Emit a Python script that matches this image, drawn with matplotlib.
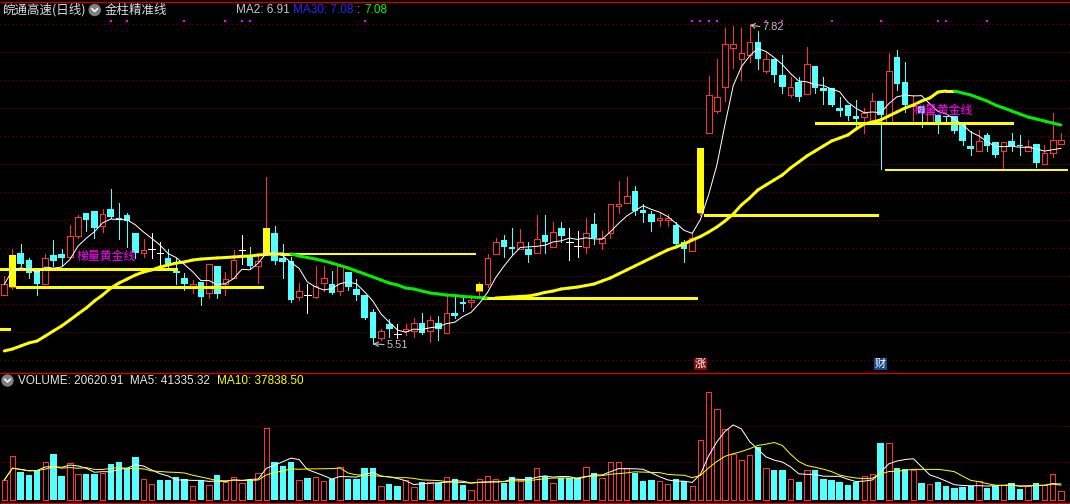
import numpy as np
import pandas as pd
import matplotlib
matplotlib.use('Agg')
import matplotlib.pyplot as plt
from matplotlib.collections import LineCollection
from matplotlib.patches import Circle

plt.rcParams['font.family'] = ['Noto Sans CJK SC', 'DejaVu Sans']

# 日线数据 (open, high, low, close)
opens = [5.86, 5.92, 6.17, 6.12, 6.04, 5.94, 6.15, 6.16, 6.14, 6.29,
         6.46, 6.47, 6.36, 6.49, 6.42, 6.44, 6.31, 6.17, 6.20, 6.17,
         6.13, 6.04, 5.99, 5.92, 5.96, 5.88, 6.07, 5.94, 5.99, 6.19,
         6.15, 6.07, 6.15, 6.31, 6.13, 6.11, 5.85, 5.86, 5.85, 5.95,
         5.94, 5.89, 6.03, 5.91, 5.86, 5.74, 5.55, 5.65, 5.58, 5.60,
         5.60, 5.66, 5.60, 5.66, 5.59, 5.73, 5.81, 5.81, 5.89, 5.94,
         6.16, 6.26, 6.21, 6.20, 6.20, 6.17, 6.30, 6.21, 6.35, 6.25,
         6.22, 6.21, 6.38, 6.24, 6.31, 6.51, 6.53, 6.62, 6.48, 6.45,
         6.41, 6.41, 6.37, 6.25, 6.18, 6.46, 7.04, 7.20, 7.37, 7.65,
         7.57, 7.60, 7.70, 7.49, 7.57, 7.46, 7.31, 7.41, 7.32, 7.52,
         7.36, 7.36, 7.22, 7.24, 7.16, 7.15, 7.12, 7.27, 7.12, 7.59,
         7.41, 7.23, 7.23, 7.12, 7.17, 7.16, 7.16, 7.10, 6.94, 6.91,
         7.02, 6.97, 6.91, 6.98, 6.95, 6.91, 6.96, 6.81, 6.89, 6.96]
highs = [6.00, 6.20, 6.23, 6.13, 6.04, 6.16, 6.26, 6.20, 6.37, 6.44,
         6.46, 6.47, 6.49, 6.63, 6.53, 6.46, 6.31, 6.27, 6.31, 6.25,
         6.20, 6.13, 6.02, 5.97, 5.96, 6.09, 6.07, 6.03, 6.19, 6.30,
         6.21, 6.15, 6.72, 6.36, 6.23, 6.14, 5.95, 5.94, 6.07, 6.07,
         6.04, 6.07, 6.03, 5.98, 5.86, 5.76, 5.62, 5.69, 5.65, 5.65,
         5.70, 5.73, 5.71, 5.71, 5.86, 5.85, 5.84, 5.85, 5.96, 6.16,
         6.28, 6.30, 6.35, 6.34, 6.25, 6.44, 6.44, 6.39, 6.39, 6.35,
         6.33, 6.42, 6.46, 6.33, 6.52, 6.69, 6.72, 6.65, 6.52, 6.47,
         6.46, 6.45, 6.39, 6.26, 6.32, 6.93, 7.45, 7.57, 7.80, 7.81,
         7.80, 7.82, 7.78, 7.62, 7.57, 7.60, 7.44, 7.44, 7.66, 7.52,
         7.44, 7.36, 7.30, 7.24, 7.28, 7.22, 7.33, 7.27, 7.62, 7.64,
         7.55, 7.31, 7.23, 7.22, 7.17, 7.16, 7.16, 7.10, 7.05, 7.06,
         7.04, 6.97, 6.97, 7.04, 7.02, 6.99, 6.96, 6.95, 7.18, 7.04]
lows = [5.86, 5.91, 6.07, 5.99, 5.86, 5.94, 6.07, 6.07, 6.14, 6.28,
        6.33, 6.28, 6.32, 6.42, 6.27, 6.21, 6.13, 6.14, 6.13, 6.07,
        6.06, 5.94, 5.90, 5.88, 5.79, 5.84, 5.84, 5.86, 5.99, 6.09,
        6.06, 5.95, 6.15, 6.09, 5.99, 5.81, 5.83, 5.73, 5.84, 5.89,
        5.87, 5.86, 5.90, 5.83, 5.69, 5.51, 5.54, 5.56, 5.55, 5.57,
        5.56, 5.58, 5.52, 5.54, 5.59, 5.70, 5.75, 5.78, 5.85, 5.92,
        6.16, 6.14, 6.15, 6.20, 6.10, 6.17, 6.17, 6.21, 6.25, 6.12,
        6.14, 6.17, 6.23, 6.20, 6.28, 6.46, 6.53, 6.44, 6.39, 6.33,
        6.36, 6.36, 6.22, 6.10, 6.18, 6.44, 7.04, 7.18, 7.27, 7.51,
        7.42, 7.55, 7.50, 7.47, 7.41, 7.33, 7.30, 7.27, 7.32, 7.33,
        7.25, 7.23, 7.16, 7.13, 7.07, 7.04, 7.12, 6.78, 7.12, 7.35,
        7.19, 7.11, 7.08, 7.10, 7.04, 7.12, 7.04, 6.95, 6.88, 6.91,
        6.91, 6.86, 6.78, 6.91, 6.88, 6.91, 6.79, 6.81, 6.86, 6.96]
closes = [5.94, 6.15, 6.09, 6.02, 5.94, 6.13, 6.11, 6.13, 6.29, 6.43,
          6.41, 6.35, 6.45, 6.43, 6.41, 6.40, 6.17, 6.19, 6.20, 6.17,
          6.09, 6.02, 5.94, 5.94, 5.85, 6.09, 5.87, 5.98, 6.12, 6.19,
          6.07, 6.11, 6.35, 6.11, 6.10, 5.83, 5.89, 5.86, 5.93, 5.99,
          5.88, 6.07, 5.92, 5.86, 5.70, 5.55, 5.60, 5.62, 5.58, 5.62,
          5.66, 5.59, 5.68, 5.62, 5.73, 5.71, 5.80, 5.83, 5.94, 6.13,
          6.25, 6.21, 6.20, 6.25, 6.15, 6.27, 6.25, 6.32, 6.29, 6.25,
          6.22, 6.31, 6.28, 6.28, 6.52, 6.52, 6.58, 6.47, 6.46, 6.39,
          6.42, 6.42, 6.23, 6.20, 6.28, 6.93, 7.31, 7.30, 7.68, 7.68,
          7.62, 7.70, 7.57, 7.57, 7.46, 7.37, 7.37, 7.30, 7.54, 7.36,
          7.34, 7.24, 7.20, 7.16, 7.14, 7.18, 7.27, 7.17, 7.49, 7.39,
          7.24, 7.24, 7.18, 7.19, 7.12, 7.15, 7.05, 6.98, 6.92, 6.98,
          6.94, 6.88, 6.97, 6.94, 6.94, 6.94, 6.82, 6.89, 6.99, 6.99]
volumes = [48360, 106550, 68000, 61380, 73650, 91820, 112190, 58180, 89360, 63090,
           63090, 63090, 65550, 87640, 92550, 77820, 104830, 50820, 38540, 48360,
           48360, 55730, 50820, 33630, 48360, 36090, 60640, 43450, 54990, 41000,
           48360, 65550, 176020, 92550, 83470, 92550, 48360, 53270, 55730, 45170,
           50820, 79540, 50820, 50820, 77820, 77820, 33630, 38540, 33630, 49100,
           31180, 43450, 43450, 41000, 54990, 50820, 36090, 23080, 50080, 57450,
           50080, 41000, 55730, 45170, 55730, 77820, 58180, 40260, 53270, 53270,
           53270, 79540, 65550, 52540, 91820, 91820, 77820, 65550, 45910, 48360,
           45170, 37810, 50820, 45170, 32900, 145830, 264400, 221930, 173570, 112190,
           96730, 109000, 129380, 77820, 72910, 72910, 50080, 43450, 72180, 72180,
           50820, 48360, 43450, 36090, 43450, 57450, 62360, 139200, 138460, 77820,
           75370, 72180, 41000, 37810, 43450, 33630, 28720, 31180, 33630, 45170,
           28720, 33630, 35350, 41000, 26270, 32900, 41000, 35350, 62360, 20620.91]
# MA30 (thick line, yellow rising / green falling)
ma30 = [5.458, 5.472, 5.494, 5.516, 5.530, 5.566, 5.603, 5.639, 5.682, 5.726,
        5.769, 5.820, 5.863, 5.914, 5.950, 5.979, 6.008, 6.030, 6.045, 6.066,
        6.081, 6.095, 6.103, 6.117, 6.124, 6.128, 6.132, 6.135, 6.139, 6.143,
        6.146, 6.153, 6.158, 6.160, 6.162, 6.162, 6.146, 6.135, 6.124, 6.110,
        6.095, 6.077, 6.059, 6.037, 6.016, 5.994, 5.972, 5.950, 5.936, 5.914,
        5.907, 5.892, 5.878, 5.871, 5.863, 5.860, 5.853, 5.849, 5.845, 5.842,
        5.842, 5.845, 5.849, 5.853, 5.856, 5.867, 5.882, 5.892, 5.907, 5.914,
        5.921, 5.932, 5.943, 5.965, 5.987, 6.016, 6.045, 6.074, 6.103, 6.132,
        6.161, 6.190, 6.211, 6.233, 6.262, 6.287, 6.320, 6.356, 6.400, 6.450,
        6.516, 6.566, 6.624, 6.661, 6.697, 6.733, 6.784, 6.827, 6.871, 6.907,
        6.943, 6.979, 7.001, 7.023, 7.066, 7.103, 7.117, 7.132, 7.161, 7.190,
        7.219, 7.240, 7.269, 7.291, 7.334, 7.342, 7.342, 7.327, 7.313, 7.291,
        7.269, 7.240, 7.219, 7.197, 7.175, 7.153, 7.139, 7.124, 7.110, 7.095]

gold_idx = [1, 32, 58, 85]
signal_idx = [13, 15, 22, 27, 29, 30, 44, 84, 85, 86, 87, 93, 95, 101, 107, 114, 115, 120]
level_start = [-0.5, 1.4, -0.5, 32.4, 58.4, 85.4, 99.0, 107.5]
level_end = [21.1, 31.6, 0.7, 57.6, 84.6, 106.7, 123.2, 129.9]
level_price = [6.05, 5.92, 5.62, 6.16, 5.84, 6.44, 7.11, 6.77]
text_idx = [12.5, 114.6]
text_price = [6.14, 7.20]
tag_idx = [85, 107]
tag_text = ['涨', '财']

RED = '#FF3232'
CYAN = '#54FFFF'
YELLOW = '#FFFF00'
GREEN = '#00F000'
MAG = '#FF00FF'
GRID = '#9A0000'
PX = 0.72

o = np.array(opens); h = np.array(highs); l = np.array(lows); c = np.array(closes)
v = np.array(volumes)
n = len(c)
x = np.arange(n)

fig = plt.figure(figsize=(10.7, 5.04), dpi=100, facecolor='black')

# overlay in pixel coordinates: frame, grid, headers
ov = fig.add_axes([0, 0, 1, 1], zorder=0)
ov.set_xlim(0, 1070)
ov.set_ylim(504, 0)
ov.axis('off')
ov.hlines([24 + 28 * k for k in range(13)] + [426, 462], 0, 1070,
          colors=GRID, linestyles=(0, (1, 3)), lw=PX)
ov.hlines([1.5, 372.5, 502.5], 0, 1070, colors='#D00000', lw=1.0)

for cx, cy in [(94.7, 10), (7.5, 380.5)]:
    ov.add_patch(Circle((cx, cy), 5.5, color='#808080'))
    ov.plot([cx - 2.8, cx, cx + 2.8], [cy - 1.3, cy + 1.5, cy - 1.3], color='white', lw=1.1)

ov.text(2, 10, '皖通高速(日线)', va='center', ha='left', fontsize=9, color='#DCDCDC')
ov.text(105, 10, '金柱精准线', va='center', ha='left', fontsize=9, color='#DCDCDC')
lat = dict(va='center', ha='left', fontsize=8.5, family='Liberation Sans')
ov.text(236, 10, 'MA2: 6.91', color='#C8C8C8', **lat)
ov.text(293, 10, 'MA30: 7.08', color='#2828FF', **lat)
ov.text(357, 10, ':', color='#C8C8C8', **lat)
ov.text(364, 10, '7.08', color='#00FF00', **lat)
ov.text(18, 381, 'VOLUME: 20620.91  MA5: 41335.32', color='#E6E6E6', **lat)
ov.text(217, 381, 'MA10: 37838.50', color=YELLOW, **lat)

# main price panel
ax = fig.add_axes([0, 132 / 504, 1, 369 / 504], zorder=1)
ax.axis('off')
ax.set_xlim(-0.525, 130.12)
ax.set_ylim(5.3055, 7.9794)

up = c > o
dn = c < o
dj = c == o

ax.vlines(x[up], l[up], h[up], colors=RED, lw=PX, zorder=2, antialiased=False)
ax.bar(x[up], (c - o)[up], bottom=o[up], width=0.7, facecolor='black',
       edgecolor=RED, lw=PX, zorder=2.1, antialiased=False)
ax.vlines(x[dn], l[dn], h[dn], colors=CYAN, lw=PX, zorder=2, antialiased=False)
ax.bar(x[dn], (o - c)[dn], bottom=c[dn], width=0.8, color=CYAN, lw=0, zorder=2.1,
       antialiased=False)
ax.vlines(x[dj], l[dj], h[dj], colors='white', lw=PX, zorder=2, antialiased=False)
ax.hlines(c[dj], x[dj] - 0.4, x[dj] + 0.4, colors='white', lw=PX, zorder=2.1,
          antialiased=False)

# gold columns over the candle bodies
g = np.array(gold_idx)
ax.bar(g, c[g] - o[g], bottom=o[g], width=0.8, color=YELLOW, lw=0, zorder=3,
       antialiased=False)

# support / resistance levels
lw_levels = [3, 3, 3, 2, 3, 3, 3, 2]
for s, e, p, w in zip(level_start, level_end, level_price, lw_levels):
    ax.hlines(p, s, e, colors=YELLOW, lw=w * PX, zorder=3.5, antialiased=False)

# MA30 coloured by slope
m30 = np.array(ma30)
segs = [[(i, m30[i]), (i + 1, m30[i + 1])] for i in range(n - 1)]
cols = [YELLOW if m30[i + 1] >= m30[i] else GREEN for i in range(n - 1)]
ax.add_collection(LineCollection(segs, colors=cols, linewidths=3 * PX, zorder=4,
                                 capstyle='round'))

# MA5
ma5 = pd.Series(c).rolling(5, min_periods=1).mean()
ax.plot(x, ma5, color='white', lw=PX, zorder=5)

# signal dots at the top
ax.scatter(signal_idx, [7.85] * len(signal_idx), marker='s', s=3, color=MAG,
           linewidths=0, zorder=6)

for ti, tp in zip(text_idx, text_price):
    ax.text(ti, tp, '梯量黄金线', color=MAG, fontsize=8.6, ha='center', va='center', zorder=7)

tag_bg = ['#8C0A0A', '#1A4A8C']
for ti, tt, bg in zip(tag_idx, tag_text, tag_bg):
    ax.text(ti, 5.364, tt, color='white', fontsize=8, ha='center', va='center', zorder=7,
            bbox=dict(boxstyle='square,pad=0.08', fc=bg, ec='none'))

hi = int(np.argmax(h))
lo = int(np.argmin(l))
arr = dict(arrowstyle='->', color='#C0C0C0', lw=0.8, relpos=(0, 0.5),
           shrinkA=0, shrinkB=0)
ax.annotate(f'{h[hi]:.2f}', xy=(hi, h[hi]), xytext=(13, -2), textcoords='offset pixels',
            ha='left', va='center', color='#C0C0C0', fontsize=8, family='Liberation Sans',
            arrowprops=arr, zorder=7)
ax.annotate(f'{l[lo]:.2f}', xy=(lo, l[lo]), xytext=(14, -1), textcoords='offset pixels',
            ha='left', va='center', color='#C0C0C0', fontsize=8, family='Liberation Sans',
            arrowprops=arr, zorder=7)

# volume panel
vax = fig.add_axes([0, 2 / 504, 1, 130 / 504], zorder=1)
vax.axis('off')
vax.set_xlim(-0.525, 130.12)
vax.set_ylim(-5650, 313500)

prev_c = np.concatenate([[c[0]], c[:-1]])
vup = up | (dj & (c >= prev_c))
vdn = ~vup
vax.bar(x[vup], v[vup], width=0.66, facecolor='black', edgecolor=RED, lw=PX,
        antialiased=False)
vax.bar(x[vdn], v[vdn], width=0.78, color=CYAN, lw=0, antialiased=False)
vs = pd.Series(v)
vax.plot(x, vs.rolling(5, min_periods=1).mean(), color='white', lw=PX, zorder=3)
vax.plot(x, vs.rolling(10, min_periods=1).mean(), color=YELLOW, lw=PX, zorder=3)

fig.savefig('out.png', dpi=100, facecolor='black')
